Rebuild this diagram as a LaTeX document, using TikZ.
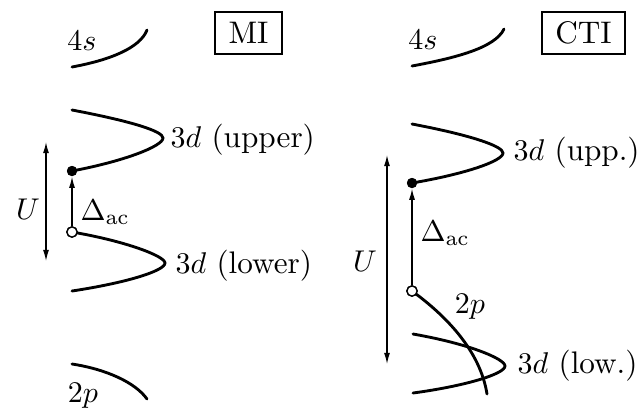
\documentclass[tikz,border=0pt]{standalone}
\usetikzlibrary{arrows.meta}
\tikzset{
  lbl/.style={inner sep=0pt, font=\fontsize{10.4}{12.5}\selectfont},
  curve/.style={line width=0.95pt, line cap=round},
  arr/.style={line width=0.42pt, -{Latex[length=3.7pt,width=2pt]}},
  darr/.style={line width=0.42pt, {Latex[length=3.7pt,width=2pt]}-{Latex[length=3.7pt,width=2pt]}},
  fdot/.style={circle, fill=black, inner sep=0pt, minimum size=3.4pt},
  odot/.style={circle, draw=black, fill=white, line width=0.45pt, inner sep=0pt, minimum size=3.4pt},
  tagbox/.style={draw, line width=0.6pt, inner xsep=4.4pt, minimum height=13.3pt, font=\fontsize{10.4}{12.5}\selectfont}
}
\begin{document}
\begin{tikzpicture}[x=0.333333pt,y=-0.333333pt]
\useasboundingbox (0,0) rectangle (640,412);
% ---------- MI panel ----------
\node[lbl] (s4a) at (82,41) {$4s$};
\draw[curve] (72,67) .. controls (110,60) and (140,48) .. (147,30);
\node[tagbox] (mi) at (248.5,33) {MI};
\coordinate (Uat) at (46,142);
\coordinate (Uab) at (46,261);
\draw[darr] (Uat) -- (Uab);
\node[lbl] (Ua) at (28,209) {$U$};
\node[fdot] (fda) at (72,171) {};
\node[odot] (oda) at (72,232) {};
\draw[curve] (72,110) .. controls (130,121) and (163,131) .. (163,138)
   .. controls (163,146) and (125,161) .. (fda.center);
\draw[curve] (oda.center) .. controls (125,241) and (165,256) .. (165,263)
   .. controls (165,271) and (125,283) .. (72,291);
\node[fdot] at (fda) {};
\node[odot] at (oda) {};
\draw[arr] (oda) -- (fda);
\node[lbl, anchor=west] (da) at (80,212) {$\Delta_{\mathrm{ac}}$};
\node[lbl, anchor=west] (dua) at (170,140) {$3d$ (upper)};
\node[lbl, anchor=west] (dla) at (175,266) {$3d$ (lower)};
\draw[curve] (72,364) .. controls (105,369) and (135,382) .. (147,399);
\node[lbl] (p2a) at (83,396) {$2p$};
% ---------- CTI panel ----------
\node[lbl] (s4b) at (423,40) {$4s$};
\draw[curve] (412,66) .. controls (455,58) and (495,48) .. (504,29);
\node[tagbox] (cti) at (583.5,33) {CTI};
\coordinate (Ubt) at (387,155);
\coordinate (Ubb) at (387,364);
\draw[darr] (Ubt) -- (Ubb);
\node[lbl] (Ub) at (365,261) {$U$};
\node[fdot] (fdb) at (412,183) {};
\node[odot] (odb) at (412,291) {};
\draw[curve] (412,124) .. controls (470,135) and (503,146) .. (503,153)
   .. controls (503,161) and (465,174) .. (fdb.center);
\draw[curve] (413,334) .. controls (470,344) and (505,359) .. (505,366)
   .. controls (505,374) and (465,386) .. (413,393);
\draw[curve] (odb.center) .. controls (445,315) and (480,350) .. (487,394);
\node[fdot] at (fdb) {};
\node[odot] at (odb) {};
\draw[arr] (odb) -- (fdb);
\node[lbl, anchor=west] (db) at (420,233) {$\Delta_{\mathrm{ac}}$};
\node[lbl] (p2b) at (470,307) {$2p$};
\node[lbl, anchor=west] (dub) at (513,153) {$3d$ (upp.)};
\node[lbl, anchor=west] (dlb) at (517,366) {$3d$ (low.)};
\end{tikzpicture}
\end{document}
